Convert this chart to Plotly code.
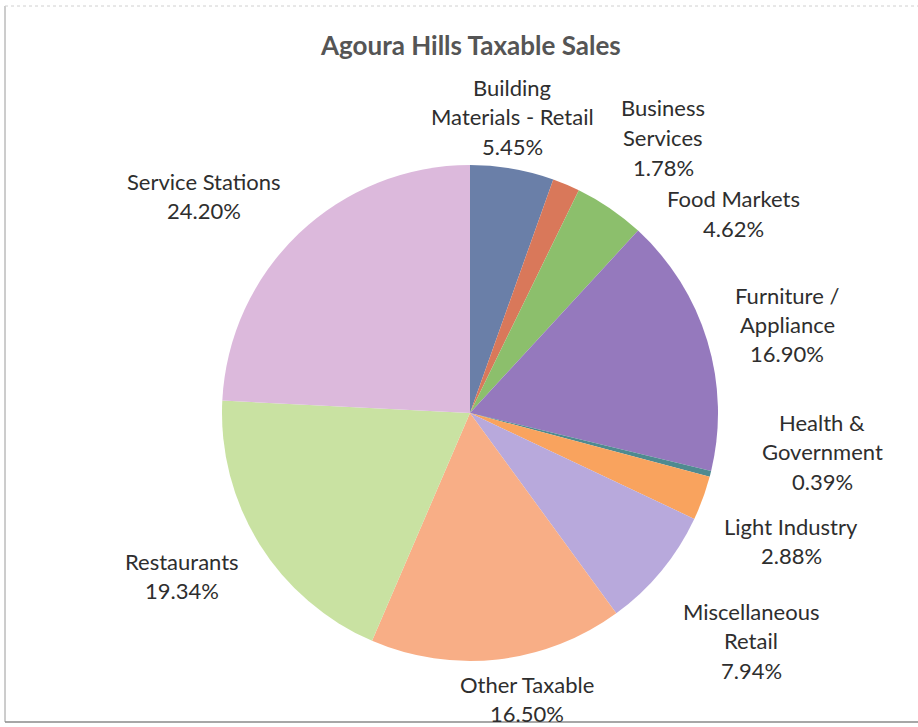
import plotly.graph_objects as go

# Share of taxable sales by business category (percent)
categories = [
    "Building\nMaterials - Retail",
    "Business\nServices",
    "Food Markets",
    "Furniture /\nAppliance",
    "Health &\nGovernment",
    "Light Industry",
    "Miscellaneous\nRetail",
    "Other Taxable",
    "Restaurants",
    "Service Stations",
]
shares = [5.45, 1.78, 4.62, 16.90, 0.39, 2.88, 7.94, 16.50, 19.34, 24.20]

colors = [
    "#6a7fa8", "#d9785a", "#8cbf6c", "#9579bd", "#4f8a90",
    "#f9a35e", "#b8a9dc", "#f8ae86", "#c9e2a2", "#dcb9dc",
]

# Label anchor (pixel centre x, centre y of first line)
label_pos = [
    (512, 87), (663, 108), (733, 199), (787, 295), (822, 422),
    (791, 526), (751, 611), (527, 684), (182, 561), (204, 181),
]

W, H = 918, 727
LINE_STEP = 29.5

fig = go.Figure(
    go.Pie(
        labels=[c.replace("\n", " ") for c in categories],
        values=shares,
        sort=False,
        direction="clockwise",
        rotation=0,
        marker=dict(colors=colors, line=dict(width=0)),
        textinfo="none",
        hoverinfo="label+percent",
        showlegend=False,
        domain=dict(x=[222 / W, 718 / W], y=[1 - 661 / H, 1 - 165 / H]),
    )
)

annotations = []
for name, val, (px, py) in zip(categories, shares, label_pos):
    lines = name.split("\n") + [f"{val:.2f}%"]
    for i, line in enumerate(lines):
        annotations.append(
            dict(
                x=px / W,
                y=1 - (py + i * LINE_STEP) / H,
                xref="paper",
                yref="paper",
                text=line,
                showarrow=False,
                xanchor="center",
                yanchor="middle",
                font=dict(family="Lato, Open Sans, sans-serif", size=22, color="#2e2e2e"),
            )
        )

annotations.append(
    dict(
        x=470 / W,
        y=1 - 45 / H,
        xref="paper",
        yref="paper",
        text="<b>Agoura Hills Taxable Sales</b>",
        showarrow=False,
        xanchor="center",
        yanchor="middle",
        font=dict(family="Lato, Open Sans, sans-serif", size=26, color="#555555"),
    )
)

fig.update_layout(
    width=W,
    height=H,
    margin=dict(l=0, r=0, t=0, b=0),
    paper_bgcolor="white",
    plot_bgcolor="white",
    annotations=annotations,
    shapes=[
        dict(type="line", xref="paper", yref="paper", x0=5 / W, x1=5 / W,
             y0=1 - 722 / H, y1=1 - 6 / H, line=dict(color="#9a9a9a", width=1)),
        dict(type="line", xref="paper", yref="paper", x0=5 / W, x1=1,
             y0=1 - 6 / H, y1=1 - 6 / H, line=dict(color="#d0d0d0", width=1, dash="dot")),
        dict(type="line", xref="paper", yref="paper", x0=5 / W, x1=1,
             y0=1 - 722 / H, y1=1 - 722 / H, line=dict(color="#8a8a8a", width=1.5)),
    ],
)

fig.write_html("out.html")
